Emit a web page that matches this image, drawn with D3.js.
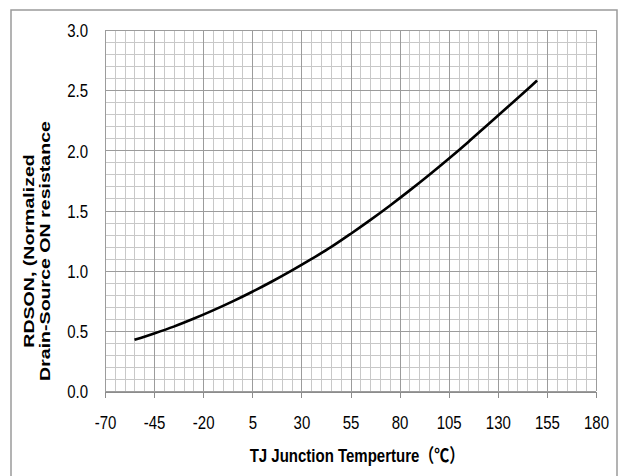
<!DOCTYPE html>
<html>
<head>
<meta charset="utf-8">
<script src="https://cdn.jsdelivr.net/npm/d3@7/dist/d3.min.js"></script>
<style>
html,body{margin:0;padding:0;background:#fff;}
svg{display:block;}
</style>
</head>
<body>
<svg id="chart" width="624" height="476"></svg>
<script>
// Data
const temperature = [-55, -45, -35, -25, -15, -5, 5, 15, 25, 35, 45, 55, 65, 75, 85, 95, 105, 115, 125, 135, 145, 150];
const rdson = [0.425, 0.478, 0.535, 0.600, 0.670, 0.745, 0.825, 0.910, 1.000, 1.095, 1.195, 1.305, 1.420, 1.540, 1.665, 1.795, 1.930, 2.070, 2.215, 2.360, 2.505, 2.580];
const xTicks = [-70, -45, -20, 5, 30, 55, 80, 105, 130, 155, 180];
const yTicks = [0.0, 0.5, 1.0, 1.5, 2.0, 2.5, 3.0];
const xMinorStep = 5;
const yMinorStep = 0.1;
const xTitle = "TJ Junction Temperture（℃）";
const yTitleLines = ["RDSON, (Normalized", "Drain-Source ON resistance"];

(function () {
const svg = d3.select("#chart");
const pLeft = 105, pRight = 596, pTop = 30, pBottom = 391;
const stretch = 1.25; // text looks vertically stretched in the reference
const sans = "'Liberation Sans',Arial,'Noto Sans CJK SC',sans-serif";

const x = d3.scaleLinear().domain([-70, 180]).range([pLeft, pRight]);
const y = d3.scaleLinear().domain([0, 3]).range([pBottom, pTop]);

// outer frame
svg.append("rect")
  .attr("x", 11).attr("y", 10).attr("width", 606).attr("height", 480)
  .attr("fill", "none").attr("stroke", "#9a9a9a").attr("stroke-width", 1.5);

// minor grid
const xMinor = d3.range(-70, 180.001, xMinorStep);
const yMinor = d3.range(0, 3.0001, yMinorStep);
const g = svg.append("g").attr("shape-rendering", "crispEdges");
g.selectAll(".vx").data(xMinor).join("line")
  .attr("x1", d => Math.round(x(d)) + 0.5).attr("x2", d => Math.round(x(d)) + 0.5)
  .attr("y1", pTop).attr("y2", pBottom)
  .attr("stroke", "#c8c8c8").attr("stroke-width", 1);
g.selectAll(".hy").data(yMinor).join("line")
  .attr("y1", d => Math.round(y(d)) + 0.5).attr("y2", d => Math.round(y(d)) + 0.5)
  .attr("x1", pLeft).attr("x2", pRight)
  .attr("stroke", "#c8c8c8").attr("stroke-width", 1);

// major grid
const g2 = svg.append("g").attr("shape-rendering", "crispEdges");
g2.selectAll(".mx").data(xTicks).join("line")
  .attr("x1", d => Math.round(x(d)) + 0.5).attr("x2", d => Math.round(x(d)) + 0.5)
  .attr("y1", pTop).attr("y2", pBottom)
  .attr("stroke", "#9c9c9c").attr("stroke-width", 1);
g2.selectAll(".my").data(yTicks).join("line")
  .attr("y1", d => Math.round(y(d)) + 0.5).attr("y2", d => Math.round(y(d)) + 0.5)
  .attr("x1", pLeft).attr("x2", pRight)
  .attr("stroke", "#9c9c9c").attr("stroke-width", 1);

// x axis
const xAxis = d3.axisBottom(x).tickValues(xTicks).tickSize(6).tickFormat(d => String(d));
const xa = svg.append("g").attr("transform", `translate(0,${Math.round(y(0)) + 0.5})`).call(xAxis);
xa.select(".domain").attr("stroke", "#8c8c8c").attr("shape-rendering", "crispEdges");
xa.selectAll(".tick line").attr("stroke", "#8c8c8c").attr("shape-rendering", "crispEdges");
xa.selectAll("text")
  .attr("font-family", sans).attr("font-size", 15).attr("fill", "#000")
  .attr("y", 0).attr("dy", null)
  .attr("transform", `translate(0,37.5) scale(1,${stretch})`);

// y axis labels
const yAxis = d3.axisLeft(y).tickValues(yTicks).tickSize(0).tickFormat(d3.format(".1f"));
const ya = svg.append("g").attr("transform", `translate(${pLeft},0)`).call(yAxis);
ya.select(".domain").remove();
ya.selectAll("text")
  .attr("font-family", sans).attr("font-size", 15).attr("fill", "#000")
  .attr("x", 0).attr("dy", null).attr("text-anchor", "end")
  .attr("transform", `translate(-17,6.7) scale(1,${stretch})`);

// curve
const line = d3.line().x((d, i) => x(temperature[i])).y(d => y(d)).curve(d3.curveCatmullRom);
svg.append("path").datum(rdson)
  .attr("d", line).attr("fill", "none").attr("stroke", "#000").attr("stroke-width", 2.6)
  .attr("stroke-linecap", "butt");

// x title
svg.append("text")
  .attr("transform", `translate(357,462) scale(1,${stretch})`)
  .attr("text-anchor", "middle")
  .attr("font-family", sans).attr("font-weight", "bold").attr("font-size", 15)
  .text(xTitle);

// y title
const yt = svg.append("text")
  .attr("transform", "translate(34,251) rotate(-90) scale(1.35,1)")
  .attr("text-anchor", "middle").attr("font-family", sans)
  .attr("font-weight", "bold").attr("font-size", 14.5);
yt.selectAll("tspan").data(yTitleLines).join("tspan")
  .attr("x", 0).attr("dy", (d, i) => i === 0 ? 0 : 16).text(d => d);
})();
</script>
</body>
</html>
